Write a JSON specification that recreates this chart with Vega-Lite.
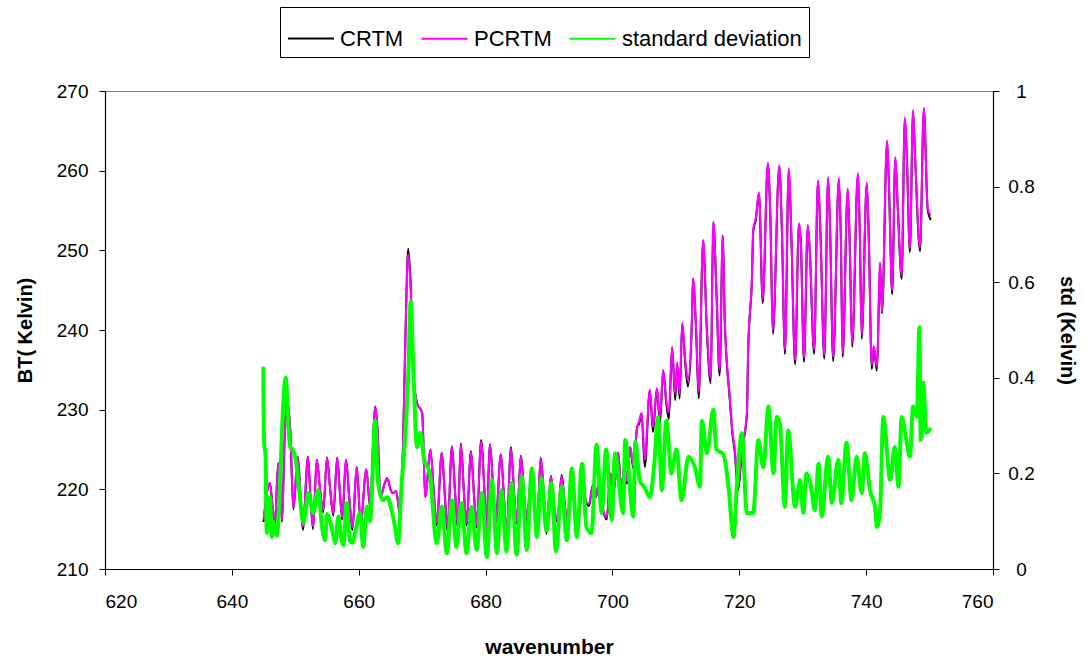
{
  "$schema": "https://vega.github.io/schema/vega-lite/v6.json",
  "autosize": {"type": "none"},
  "width": 888,
  "height": 478,
  "padding": {"left": 105, "top": 91, "right": 92, "bottom": 91},
  "background": "white",
  "config": {
    "font": "Liberation Sans",
    "view": {"stroke": "#808080", "strokeWidth": 1},
    "axis": {"grid": false, "domainColor": "black", "tickColor": "black", "labelColor": "black", "titleColor": "black", "labelFont": "Liberation Sans", "titleFont": "Liberation Sans", "labelFontSize": 19, "titleFontSize": 20, "titleFontWeight": "bold", "tickSize": 6, "domainWidth": 1.2},
    "legend": {"orient": "none", "legendX": 175, "legendY": -84, "direction": "horizontal", "strokeColor": "black", "strokeWidth": 1, "padding": 7, "symbolType": "stroke", "symbolSize": 2116, "labelFont": "Liberation Sans", "labelFontSize": 22, "labelColor": "black", "labelLimit": 400, "columnPadding": 13, "labelOffset": 5, "fillColor": "white"}
  },
  "datasets": {
    "bt": [
      {"wn": 645.0, "CRTM": 215.9, "PCRTM": 216.2},
      {"wn": 645.5, "CRTM": 219.4, "PCRTM": 219.5},
      {"wn": 646.0, "CRTM": 220.8, "PCRTM": 220.8},
      {"wn": 646.4, "CRTM": 218.0, "PCRTM": 218.0},
      {"wn": 646.8, "CRTM": 215.5, "PCRTM": 215.8},
      {"wn": 647.3, "CRTM": 223.3, "PCRTM": 223.3},
      {"wn": 647.6, "CRTM": 221.0, "PCRTM": 221.0},
      {"wn": 647.9, "CRTM": 215.9, "PCRTM": 216.2},
      {"wn": 648.3, "CRTM": 226.0, "PCRTM": 226.0},
      {"wn": 648.7, "CRTM": 231.3, "PCRTM": 231.2},
      {"wn": 649.2, "CRTM": 227.5, "PCRTM": 227.4},
      {"wn": 649.7, "CRTM": 217.5, "PCRTM": 217.8},
      {"wn": 650.4, "CRTM": 224.1, "PCRTM": 224.0},
      {"wn": 650.8, "CRTM": 219.5, "PCRTM": 219.5},
      {"wn": 651.2, "CRTM": 214.9, "PCRTM": 215.3},
      {"wn": 652.0, "CRTM": 224.1, "PCRTM": 224.0},
      {"wn": 652.4, "CRTM": 219.0, "PCRTM": 219.0},
      {"wn": 652.8, "CRTM": 215.0, "PCRTM": 215.3},
      {"wn": 653.4, "CRTM": 223.7, "PCRTM": 223.7},
      {"wn": 653.9, "CRTM": 220.0, "PCRTM": 220.0},
      {"wn": 654.4, "CRTM": 217.1, "PCRTM": 217.4},
      {"wn": 655.0, "CRTM": 224.0, "PCRTM": 224.0},
      {"wn": 655.5, "CRTM": 220.0, "PCRTM": 220.0},
      {"wn": 656.0, "CRTM": 216.7, "PCRTM": 217.0},
      {"wn": 656.6, "CRTM": 224.0, "PCRTM": 224.0},
      {"wn": 657.0, "CRTM": 220.0, "PCRTM": 220.0},
      {"wn": 657.4, "CRTM": 216.2, "PCRTM": 216.5},
      {"wn": 658.0, "CRTM": 223.7, "PCRTM": 223.7},
      {"wn": 658.5, "CRTM": 219.0, "PCRTM": 219.0},
      {"wn": 659.0, "CRTM": 214.9, "PCRTM": 215.2},
      {"wn": 659.7, "CRTM": 222.8, "PCRTM": 222.8},
      {"wn": 660.3, "CRTM": 215.7, "PCRTM": 216.0},
      {"wn": 661.2, "CRTM": 222.5, "PCRTM": 222.5},
      {"wn": 661.8, "CRTM": 217.7, "PCRTM": 218.0},
      {"wn": 662.6, "CRTM": 230.4, "PCRTM": 230.3},
      {"wn": 663.0, "CRTM": 227.0, "PCRTM": 227.0},
      {"wn": 663.4, "CRTM": 219.0, "PCRTM": 219.0},
      {"wn": 664.0, "CRTM": 220.5, "PCRTM": 220.5},
      {"wn": 664.5, "CRTM": 221.4, "PCRTM": 221.4},
      {"wn": 665.0, "CRTM": 220.0, "PCRTM": 220.0},
      {"wn": 665.4, "CRTM": 219.5, "PCRTM": 219.5},
      {"wn": 665.9, "CRTM": 219.8, "PCRTM": 219.8},
      {"wn": 666.5, "CRTM": 216.8, "PCRTM": 217.0},
      {"wn": 667.0, "CRTM": 226.0, "PCRTM": 226.0},
      {"wn": 667.4, "CRTM": 240.5, "PCRTM": 240.0},
      {"wn": 667.8, "CRTM": 250.2, "PCRTM": 249.5},
      {"wn": 668.2, "CRTM": 245.5, "PCRTM": 245.0},
      {"wn": 668.6, "CRTM": 234.6, "PCRTM": 234.6},
      {"wn": 669.2, "CRTM": 230.8, "PCRTM": 230.8},
      {"wn": 670.0, "CRTM": 229.6, "PCRTM": 229.6},
      {"wn": 670.5, "CRTM": 219.0, "PCRTM": 219.0},
      {"wn": 671.3, "CRTM": 225.0, "PCRTM": 225.0},
      {"wn": 671.8, "CRTM": 220.0, "PCRTM": 220.0},
      {"wn": 672.3, "CRTM": 215.5, "PCRTM": 215.8},
      {"wn": 673.1, "CRTM": 224.6, "PCRTM": 224.6},
      {"wn": 673.6, "CRTM": 219.0, "PCRTM": 219.0},
      {"wn": 674.0, "CRTM": 214.8, "PCRTM": 215.1},
      {"wn": 674.7, "CRTM": 225.4, "PCRTM": 225.3},
      {"wn": 675.2, "CRTM": 219.5, "PCRTM": 219.5},
      {"wn": 675.6, "CRTM": 215.2, "PCRTM": 215.5},
      {"wn": 676.1, "CRTM": 225.8, "PCRTM": 225.6},
      {"wn": 676.6, "CRTM": 219.5, "PCRTM": 219.5},
      {"wn": 677.0, "CRTM": 215.5, "PCRTM": 215.8},
      {"wn": 677.7, "CRTM": 224.8, "PCRTM": 224.7},
      {"wn": 678.2, "CRTM": 219.0, "PCRTM": 219.0},
      {"wn": 678.6, "CRTM": 215.2, "PCRTM": 215.5},
      {"wn": 679.3, "CRTM": 226.2, "PCRTM": 226.0},
      {"wn": 679.8, "CRTM": 220.0, "PCRTM": 220.0},
      {"wn": 680.1, "CRTM": 214.4, "PCRTM": 214.7},
      {"wn": 680.7, "CRTM": 225.7, "PCRTM": 225.6},
      {"wn": 681.2, "CRTM": 220.0, "PCRTM": 220.0},
      {"wn": 681.6, "CRTM": 215.7, "PCRTM": 216.0},
      {"wn": 682.4, "CRTM": 224.4, "PCRTM": 224.3},
      {"wn": 682.9, "CRTM": 219.0, "PCRTM": 219.0},
      {"wn": 683.3, "CRTM": 214.0, "PCRTM": 214.3},
      {"wn": 684.0, "CRTM": 225.3, "PCRTM": 225.1},
      {"wn": 684.5, "CRTM": 219.5, "PCRTM": 219.5},
      {"wn": 684.9, "CRTM": 215.7, "PCRTM": 216.0},
      {"wn": 685.6, "CRTM": 224.2, "PCRTM": 224.1},
      {"wn": 686.1, "CRTM": 219.0, "PCRTM": 219.0},
      {"wn": 686.5, "CRTM": 216.1, "PCRTM": 216.4},
      {"wn": 687.3, "CRTM": 222.5, "PCRTM": 222.4},
      {"wn": 687.7, "CRTM": 219.0, "PCRTM": 219.0},
      {"wn": 688.1, "CRTM": 215.2, "PCRTM": 215.5},
      {"wn": 688.7, "CRTM": 224.0, "PCRTM": 223.9},
      {"wn": 689.2, "CRTM": 219.0, "PCRTM": 219.0},
      {"wn": 689.6, "CRTM": 214.4, "PCRTM": 214.7},
      {"wn": 690.3, "CRTM": 221.7, "PCRTM": 221.6},
      {"wn": 690.8, "CRTM": 218.0, "PCRTM": 218.0},
      {"wn": 691.3, "CRTM": 215.9, "PCRTM": 216.2},
      {"wn": 692.0, "CRTM": 221.8, "PCRTM": 221.6},
      {"wn": 692.5, "CRTM": 218.0, "PCRTM": 218.0},
      {"wn": 693.0, "CRTM": 215.2, "PCRTM": 215.5},
      {"wn": 693.6, "CRTM": 220.8, "PCRTM": 220.8},
      {"wn": 694.1, "CRTM": 217.0, "PCRTM": 217.0},
      {"wn": 694.6, "CRTM": 215.7, "PCRTM": 216.0},
      {"wn": 695.3, "CRTM": 221.0, "PCRTM": 221.0},
      {"wn": 695.8, "CRTM": 218.5, "PCRTM": 218.5},
      {"wn": 696.3, "CRTM": 217.9, "PCRTM": 218.2},
      {"wn": 696.9, "CRTM": 220.5, "PCRTM": 220.5},
      {"wn": 697.4, "CRTM": 219.0, "PCRTM": 219.0},
      {"wn": 697.9, "CRTM": 221.0, "PCRTM": 221.0},
      {"wn": 698.4, "CRTM": 218.0, "PCRTM": 218.0},
      {"wn": 699.1, "CRTM": 216.2, "PCRTM": 216.5},
      {"wn": 699.7, "CRTM": 222.0, "PCRTM": 222.0},
      {"wn": 700.2, "CRTM": 219.7, "PCRTM": 220.0},
      {"wn": 700.9, "CRTM": 224.6, "PCRTM": 224.6},
      {"wn": 701.4, "CRTM": 219.7, "PCRTM": 220.0},
      {"wn": 701.9, "CRTM": 223.0, "PCRTM": 223.0},
      {"wn": 702.3, "CRTM": 220.7, "PCRTM": 221.0},
      {"wn": 702.8, "CRTM": 225.3, "PCRTM": 225.3},
      {"wn": 703.3, "CRTM": 222.6, "PCRTM": 223.0},
      {"wn": 703.9, "CRTM": 227.8, "PCRTM": 227.8},
      {"wn": 704.2, "CRTM": 228.2, "PCRTM": 228.5},
      {"wn": 704.6, "CRTM": 229.5, "PCRTM": 229.6},
      {"wn": 705.1, "CRTM": 222.8, "PCRTM": 223.7},
      {"wn": 705.9, "CRTM": 232.4, "PCRTM": 232.5},
      {"wn": 706.4, "CRTM": 227.2, "PCRTM": 227.8},
      {"wn": 707.0, "CRTM": 232.6, "PCRTM": 232.7},
      {"wn": 707.5, "CRTM": 228.3, "PCRTM": 229.1},
      {"wn": 708.0, "CRTM": 234.9, "PCRTM": 235.0},
      {"wn": 708.5, "CRTM": 230.7, "PCRTM": 231.0},
      {"wn": 708.9, "CRTM": 228.8, "PCRTM": 229.6},
      {"wn": 709.4, "CRTM": 237.8, "PCRTM": 237.9},
      {"wn": 709.9, "CRTM": 231.2, "PCRTM": 232.0},
      {"wn": 710.2, "CRTM": 235.7, "PCRTM": 235.9},
      {"wn": 710.6, "CRTM": 231.4, "PCRTM": 232.0},
      {"wn": 711.0, "CRTM": 240.8, "PCRTM": 240.9},
      {"wn": 711.5, "CRTM": 235.6, "PCRTM": 236.0},
      {"wn": 711.9, "CRTM": 232.9, "PCRTM": 233.7},
      {"wn": 712.5, "CRTM": 240.3, "PCRTM": 240.4},
      {"wn": 712.7, "CRTM": 246.4, "PCRTM": 246.5},
      {"wn": 713.2, "CRTM": 239.7, "PCRTM": 240.0},
      {"wn": 713.6, "CRTM": 231.4, "PCRTM": 232.2},
      {"wn": 714.3, "CRTM": 251.2, "PCRTM": 251.3},
      {"wn": 714.9, "CRTM": 239.7, "PCRTM": 240.0},
      {"wn": 715.5, "CRTM": 233.3, "PCRTM": 234.0},
      {"wn": 715.9, "CRTM": 253.5, "PCRTM": 253.6},
      {"wn": 716.4, "CRTM": 244.7, "PCRTM": 245.0},
      {"wn": 716.9, "CRTM": 234.3, "PCRTM": 235.0},
      {"wn": 717.4, "CRTM": 251.8, "PCRTM": 251.9},
      {"wn": 717.7, "CRTM": 241.4, "PCRTM": 241.6},
      {"wn": 718.5, "CRTM": 231.3, "PCRTM": 231.6},
      {"wn": 718.9, "CRTM": 227.1, "PCRTM": 227.4},
      {"wn": 719.3, "CRTM": 224.6, "PCRTM": 225.0},
      {"wn": 719.8, "CRTM": 219.8, "PCRTM": 220.3},
      {"wn": 720.4, "CRTM": 224.7, "PCRTM": 225.0},
      {"wn": 721.2, "CRTM": 229.4, "PCRTM": 229.6},
      {"wn": 721.4, "CRTM": 237.3, "PCRTM": 237.5},
      {"wn": 722.0, "CRTM": 246.6, "PCRTM": 246.7},
      {"wn": 722.2, "CRTM": 252.4, "PCRTM": 252.6},
      {"wn": 722.6, "CRTM": 253.8, "PCRTM": 254.0},
      {"wn": 723.1, "CRTM": 257.1, "PCRTM": 257.3},
      {"wn": 723.7, "CRTM": 243.4, "PCRTM": 243.8},
      {"wn": 724.5, "CRTM": 260.8, "PCRTM": 261.0},
      {"wn": 724.9, "CRTM": 254.0, "PCRTM": 254.2},
      {"wn": 725.3, "CRTM": 239.5, "PCRTM": 240.0},
      {"wn": 726.3, "CRTM": 260.5, "PCRTM": 260.7},
      {"wn": 726.7, "CRTM": 253.0, "PCRTM": 253.2},
      {"wn": 727.2, "CRTM": 237.0, "PCRTM": 237.5},
      {"wn": 727.8, "CRTM": 260.1, "PCRTM": 260.3},
      {"wn": 728.2, "CRTM": 252.0, "PCRTM": 252.2},
      {"wn": 728.8, "CRTM": 235.7, "PCRTM": 236.2},
      {"wn": 729.4, "CRTM": 253.2, "PCRTM": 253.4},
      {"wn": 729.7, "CRTM": 251.0, "PCRTM": 251.2},
      {"wn": 730.2, "CRTM": 236.0, "PCRTM": 236.5},
      {"wn": 730.8, "CRTM": 253.0, "PCRTM": 253.2},
      {"wn": 731.1, "CRTM": 250.0, "PCRTM": 250.2},
      {"wn": 731.8, "CRTM": 237.0, "PCRTM": 237.5},
      {"wn": 732.4, "CRTM": 258.6, "PCRTM": 258.8},
      {"wn": 732.8, "CRTM": 252.0, "PCRTM": 252.2},
      {"wn": 733.4, "CRTM": 236.4, "PCRTM": 236.9},
      {"wn": 734.0, "CRTM": 259.0, "PCRTM": 259.2},
      {"wn": 734.3, "CRTM": 253.0, "PCRTM": 253.2},
      {"wn": 734.8, "CRTM": 236.1, "PCRTM": 236.6},
      {"wn": 735.7, "CRTM": 258.9, "PCRTM": 259.1},
      {"wn": 736.0, "CRTM": 252.0, "PCRTM": 252.2},
      {"wn": 736.3, "CRTM": 236.6, "PCRTM": 237.1},
      {"wn": 737.1, "CRTM": 257.6, "PCRTM": 257.8},
      {"wn": 737.4, "CRTM": 251.0, "PCRTM": 251.2},
      {"wn": 737.8, "CRTM": 237.9, "PCRTM": 238.4},
      {"wn": 738.7, "CRTM": 259.5, "PCRTM": 259.7},
      {"wn": 739.0, "CRTM": 252.0, "PCRTM": 252.2},
      {"wn": 739.3, "CRTM": 238.9, "PCRTM": 239.4},
      {"wn": 740.1, "CRTM": 258.3, "PCRTM": 258.5},
      {"wn": 740.4, "CRTM": 252.0, "PCRTM": 252.2},
      {"wn": 740.9, "CRTM": 235.1, "PCRTM": 235.6},
      {"wn": 741.2, "CRTM": 237.8, "PCRTM": 238.0},
      {"wn": 741.7, "CRTM": 234.9, "PCRTM": 235.4},
      {"wn": 742.2, "CRTM": 248.3, "PCRTM": 248.5},
      {"wn": 742.5, "CRTM": 242.1, "PCRTM": 242.3},
      {"wn": 743.3, "CRTM": 263.6, "PCRTM": 263.8},
      {"wn": 743.6, "CRTM": 258.0, "PCRTM": 258.2},
      {"wn": 744.1, "CRTM": 244.5, "PCRTM": 245.0},
      {"wn": 744.6, "CRTM": 261.5, "PCRTM": 261.7},
      {"wn": 745.0, "CRTM": 255.0, "PCRTM": 255.2},
      {"wn": 745.6, "CRTM": 246.4, "PCRTM": 246.9},
      {"wn": 746.1, "CRTM": 266.5, "PCRTM": 266.7},
      {"wn": 746.4, "CRTM": 262.0, "PCRTM": 262.2},
      {"wn": 746.9, "CRTM": 249.8, "PCRTM": 250.3},
      {"wn": 747.4, "CRTM": 267.4, "PCRTM": 267.6},
      {"wn": 747.7, "CRTM": 262.0, "PCRTM": 262.2},
      {"wn": 748.5, "CRTM": 249.9, "PCRTM": 250.4},
      {"wn": 749.1, "CRTM": 267.7, "PCRTM": 267.9},
      {"wn": 749.7, "CRTM": 255.1, "PCRTM": 255.3},
      {"wn": 750.2, "CRTM": 253.8, "PCRTM": 254.4}
    ],
    "sd": [
      {"wn": 644.95, "std": 0.423},
      {"wn": 645.05, "std": 0.27},
      {"wn": 645.3, "std": 0.24},
      {"wn": 645.5, "std": 0.075},
      {"wn": 645.75, "std": 0.12},
      {"wn": 646.0, "std": 0.15},
      {"wn": 646.3, "std": 0.067},
      {"wn": 646.5, "std": 0.1},
      {"wn": 646.8, "std": 0.08},
      {"wn": 647.1, "std": 0.07},
      {"wn": 647.6, "std": 0.18},
      {"wn": 648.1, "std": 0.347},
      {"wn": 648.5, "std": 0.4},
      {"wn": 648.9, "std": 0.305},
      {"wn": 649.2, "std": 0.255},
      {"wn": 649.6, "std": 0.25},
      {"wn": 650.0, "std": 0.234},
      {"wn": 650.5, "std": 0.18},
      {"wn": 651.3, "std": 0.096},
      {"wn": 651.7, "std": 0.13},
      {"wn": 652.1, "std": 0.159},
      {"wn": 652.8, "std": 0.117},
      {"wn": 653.6, "std": 0.165},
      {"wn": 654.2, "std": 0.09},
      {"wn": 654.7, "std": 0.06},
      {"wn": 655.0, "std": 0.115},
      {"wn": 655.5, "std": 0.1},
      {"wn": 656.0, "std": 0.07},
      {"wn": 656.3, "std": 0.054},
      {"wn": 656.8, "std": 0.11},
      {"wn": 657.2, "std": 0.07},
      {"wn": 657.6, "std": 0.05},
      {"wn": 658.1, "std": 0.138},
      {"wn": 658.6, "std": 0.06},
      {"wn": 659.0, "std": 0.055},
      {"wn": 659.5, "std": 0.08},
      {"wn": 660.2, "std": 0.117},
      {"wn": 660.7, "std": 0.046},
      {"wn": 661.3, "std": 0.13},
      {"wn": 661.8, "std": 0.1},
      {"wn": 662.6, "std": 0.31},
      {"wn": 663.0, "std": 0.186},
      {"wn": 663.8, "std": 0.144},
      {"wn": 664.5, "std": 0.15},
      {"wn": 665.2, "std": 0.123},
      {"wn": 665.7, "std": 0.09},
      {"wn": 666.2, "std": 0.054},
      {"wn": 666.8, "std": 0.186},
      {"wn": 667.2, "std": 0.25},
      {"wn": 667.8, "std": 0.4},
      {"wn": 668.2, "std": 0.56},
      {"wn": 668.6, "std": 0.42},
      {"wn": 669.2, "std": 0.255},
      {"wn": 669.7, "std": 0.285},
      {"wn": 670.3, "std": 0.23},
      {"wn": 671.2, "std": 0.2},
      {"wn": 672.3, "std": 0.054},
      {"wn": 673.1, "std": 0.13},
      {"wn": 673.9, "std": 0.033},
      {"wn": 674.7, "std": 0.144},
      {"wn": 675.4, "std": 0.046},
      {"wn": 676.2, "std": 0.138},
      {"wn": 677.0, "std": 0.033},
      {"wn": 677.8, "std": 0.13},
      {"wn": 678.6, "std": 0.04},
      {"wn": 679.4, "std": 0.159},
      {"wn": 680.2, "std": 0.025},
      {"wn": 681.0, "std": 0.186},
      {"wn": 681.8, "std": 0.033},
      {"wn": 682.5, "std": 0.165},
      {"wn": 683.3, "std": 0.037},
      {"wn": 684.1, "std": 0.18},
      {"wn": 684.9, "std": 0.03},
      {"wn": 685.7, "std": 0.193},
      {"wn": 686.5, "std": 0.04},
      {"wn": 687.3, "std": 0.21},
      {"wn": 688.1, "std": 0.067},
      {"wn": 688.8, "std": 0.19},
      {"wn": 689.6, "std": 0.08},
      {"wn": 690.4, "std": 0.18},
      {"wn": 691.1, "std": 0.037},
      {"wn": 692.0, "std": 0.172},
      {"wn": 692.8, "std": 0.06},
      {"wn": 693.6, "std": 0.21},
      {"wn": 694.4, "std": 0.067},
      {"wn": 695.2, "std": 0.22},
      {"wn": 695.9, "std": 0.088},
      {"wn": 696.7, "std": 0.075},
      {"wn": 697.5, "std": 0.26},
      {"wn": 698.3, "std": 0.117},
      {"wn": 699.0, "std": 0.25},
      {"wn": 699.9, "std": 0.103},
      {"wn": 700.4, "std": 0.242},
      {"wn": 701.7, "std": 0.117},
      {"wn": 702.0, "std": 0.27},
      {"wn": 703.3, "std": 0.11},
      {"wn": 703.6, "std": 0.266},
      {"wn": 704.3, "std": 0.186},
      {"wn": 705.1, "std": 0.17},
      {"wn": 705.9, "std": 0.15},
      {"wn": 706.6, "std": 0.22},
      {"wn": 707.2, "std": 0.318},
      {"wn": 707.8, "std": 0.165},
      {"wn": 708.5, "std": 0.31},
      {"wn": 709.3, "std": 0.2},
      {"wn": 710.1, "std": 0.25},
      {"wn": 710.9, "std": 0.144},
      {"wn": 712.0, "std": 0.235},
      {"wn": 713.0, "std": 0.213},
      {"wn": 713.8, "std": 0.172},
      {"wn": 714.1, "std": 0.31},
      {"wn": 714.9, "std": 0.242},
      {"wn": 715.9, "std": 0.333},
      {"wn": 716.4, "std": 0.25},
      {"wn": 717.5, "std": 0.24},
      {"wn": 718.3, "std": 0.172},
      {"wn": 719.1, "std": 0.067},
      {"wn": 719.6, "std": 0.17},
      {"wn": 720.4, "std": 0.284},
      {"wn": 721.2, "std": 0.117},
      {"wn": 722.2, "std": 0.117},
      {"wn": 723.0, "std": 0.27},
      {"wn": 723.8, "std": 0.213},
      {"wn": 724.6, "std": 0.34},
      {"wn": 725.4, "std": 0.2},
      {"wn": 725.9, "std": 0.318},
      {"wn": 726.4, "std": 0.305},
      {"wn": 727.2, "std": 0.13},
      {"wn": 727.7, "std": 0.29},
      {"wn": 728.8, "std": 0.13},
      {"wn": 729.6, "std": 0.186},
      {"wn": 730.1, "std": 0.117},
      {"wn": 730.6, "std": 0.2},
      {"wn": 731.4, "std": 0.165},
      {"wn": 731.9, "std": 0.123},
      {"wn": 732.5, "std": 0.22},
      {"wn": 733.0, "std": 0.11},
      {"wn": 734.0, "std": 0.235},
      {"wn": 734.6, "std": 0.138},
      {"wn": 735.6, "std": 0.228},
      {"wn": 736.1, "std": 0.138},
      {"wn": 736.9, "std": 0.264},
      {"wn": 737.7, "std": 0.144},
      {"wn": 738.5, "std": 0.235},
      {"wn": 739.3, "std": 0.159},
      {"wn": 739.8, "std": 0.242},
      {"wn": 740.6, "std": 0.165},
      {"wn": 741.4, "std": 0.13},
      {"wn": 741.7, "std": 0.088},
      {"wn": 742.2, "std": 0.123},
      {"wn": 742.7, "std": 0.318},
      {"wn": 743.8, "std": 0.186},
      {"wn": 744.5, "std": 0.255},
      {"wn": 745.1, "std": 0.172},
      {"wn": 745.6, "std": 0.318},
      {"wn": 746.4, "std": 0.264},
      {"wn": 746.9, "std": 0.235},
      {"wn": 747.4, "std": 0.34},
      {"wn": 748.0, "std": 0.318},
      {"wn": 748.4, "std": 0.506},
      {"wn": 748.6, "std": 0.27},
      {"wn": 749.0, "std": 0.39},
      {"wn": 749.5, "std": 0.285},
      {"wn": 750.2, "std": 0.295}
    ]
  },
  "layer": [
    {
      "data": {"name": "bt"},
      "transform": [{"fold": ["CRTM", "PCRTM"], "as": ["series", "value"]}],
      "mark": {"type": "line", "interpolate": "monotone"},
      "encoding": {
        "x": {"field": "wn", "type": "quantitative", "scale": {"domain": [620, 760], "nice": false}, "axis": {"values": [620, 640, 660, 680, 700, 720, 740, 760], "title": "wavenumber", "titleFontSize": 21, "labelPadding": 17, "titlePadding": 25}},
        "y": {"field": "value", "type": "quantitative", "scale": {"domain": [210, 270], "nice": false, "zero": false}, "axis": {"values": [210, 220, 230, 240, 250, 260, 270], "title": "BT( Kelvin)", "labelPadding": 11, "titlePadding": 21}},
        "color": {"field": "series", "type": "nominal", "scale": {"domain": ["CRTM", "PCRTM", "standard deviation"], "range": ["#000000", "#FF00FF", "#00FF00"]}, "legend": {"title": null}},
        "strokeWidth": {"field": "series", "type": "nominal", "scale": {"domain": ["CRTM", "PCRTM", "standard deviation"], "range": [2, 2.2, 4]}, "legend": {"title": null}}
      }
    },
    {
      "data": {"name": "sd"},
      "mark": {"type": "line", "interpolate": "monotone", "strokeWidth": 4},
      "encoding": {
        "x": {"field": "wn", "type": "quantitative"},
        "y": {"field": "std", "type": "quantitative", "scale": {"domain": [0, 1], "nice": false}, "axis": {"orient": "right", "values": [0, 0.2, 0.4, 0.6, 0.8, 1], "format": "~g", "title": "std (Kelvin)", "labelAlign": "center", "labelPadding": 22, "titlePadding": 22}},
        "color": {"datum": "standard deviation"}
      }
    }
  ],
  "resolve": {"scale": {"y": "independent"}}
}
